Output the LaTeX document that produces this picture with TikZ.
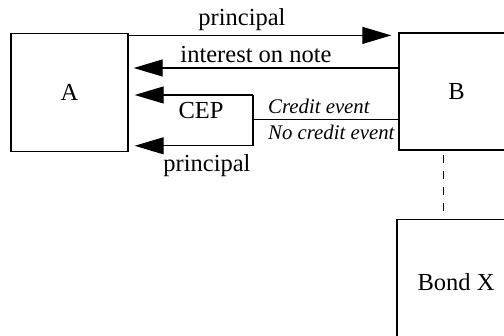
\documentclass[tikz,border=0pt]{standalone}
\usepackage{fontspec}
\setmainfont{Liberation Serif}
\usetikzlibrary{arrows.meta}
\tikzset{
  box/.style={draw, line width=1.4pt, minimum width=117pt, minimum height=118pt, inner sep=0pt, font=\fontsize{24.5}{26}\selectfont},
  flow/.style={line width=1.1pt},
  arr/.style={flow, -{Triangle[length=29pt,width=17pt]}},
  lbl/.style={inner sep=0pt, font=\fontsize{24.5}{26}\selectfont},
  ilbl/.style={inner sep=0pt, font=\fontsize{20.8}{22}\selectfont\itshape},
  link/.style={line width=1pt, dash pattern=on 8pt off 8pt, dash phase=-5pt}
}
\begin{document}
\begin{tikzpicture}[x=1pt,y=-1pt]
\useasboundingbox (0,0) rectangle (504,336);
\clip (0,0) rectangle (504,336);
\node[box] (A) at (69.5,92.8) {A};
\node[box, minimum width=115pt, minimum height=117pt] (B) at (456.5,91.7) {B};
\node[box, minimum width=118pt, minimum height=126pt] (X) at (456,282.3) {Bond X};
% principal A -> B
\coordinate (p1) at ([yshift=-2.3pt]A.north east);
\draw[arr, shorten >=7pt] (p1) -- (p1 -| B.west);
% interest B -> A
\coordinate (i1) at ([yshift=-35.5pt]B.north west);
\draw[arr, shorten >=5pt] (i1) -- (i1 -| A.east);
% CEP bracket
\coordinate (sp) at (253,119.8);
\coordinate (ct) at (253,95);
\coordinate (cb) at (253,145.8);
\draw[flow] (B.west |- sp) -- (sp);
\draw[flow] (ct) -- (cb);
\draw[arr, shorten >=6pt] (ct) -- (ct -| A.east);
\draw[arr, shorten >=6pt] (cb) -- (cb -| A.east);
% dashed link
\draw[link] (443,150) -- (443,219);
% labels
\node[lbl, anchor=base] (t1) at (242,26) {principal};
\node[lbl, anchor=base] (t2) at (256,62.5) {interest on note};
\node[lbl, anchor=base] (t3) at (201,119) {CEP};
\node[lbl, anchor=base] (t4) at (207,172) {principal};
\node[ilbl, anchor=base west] (t5) at (268,114) {Credit event};
\node[ilbl, anchor=base west] (t6) at (268,140) {No credit event};
\end{tikzpicture}
\end{document}
